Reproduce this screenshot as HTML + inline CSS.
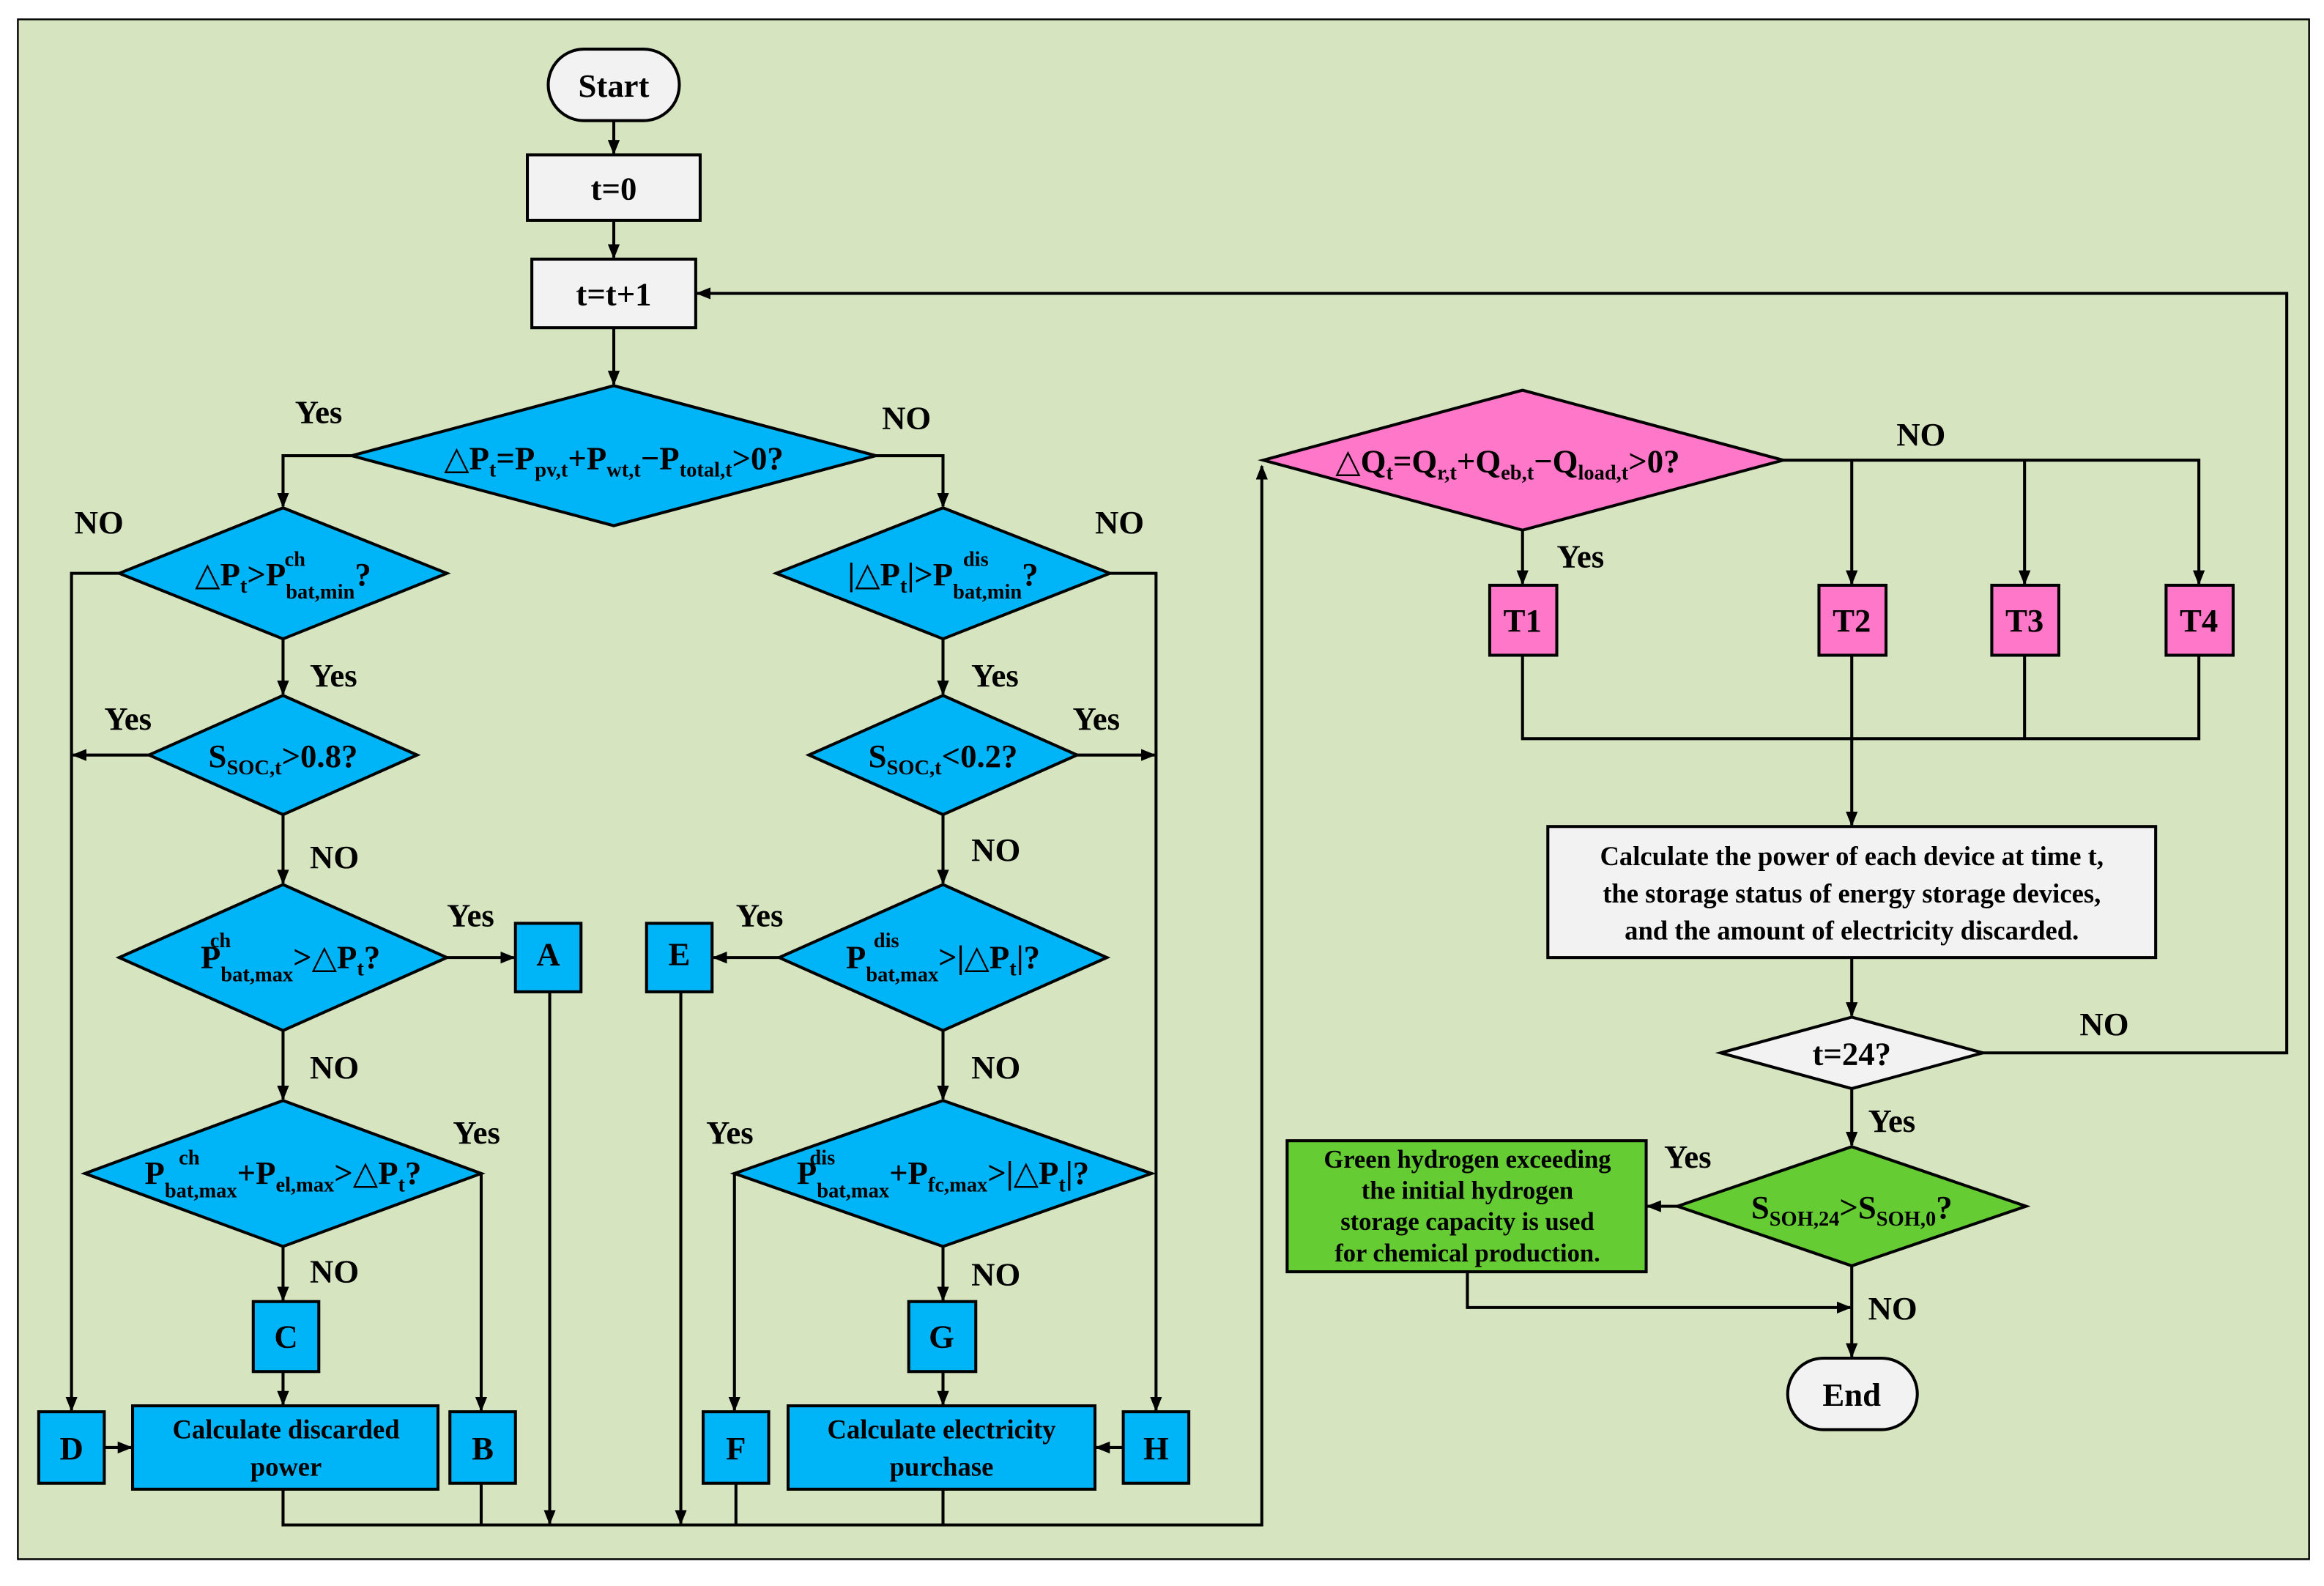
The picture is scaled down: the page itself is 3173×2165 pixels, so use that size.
<!DOCTYPE html>
<html><head><meta charset="utf-8"><style>
html,body{margin:0;padding:0;background:#fff;}
svg{display:block}
text{font-family:"Liberation Serif","Times New Roman","DejaVu Serif",serif;font-weight:bold;fill:#000}
</style></head><body>
<svg width="3173" height="2165" viewBox="0 0 1560 1065" preserveAspectRatio="none" xmlns="http://www.w3.org/2000/svg" font-family="Liberation Serif, DejaVu Serif, serif">
<defs><marker id="a" markerWidth="10" markerHeight="10" refX="9" refY="5" orient="auto" markerUnits="userSpaceOnUse"><path d="M0,1 L10,5 L0,9 Z" fill="#000"/></marker></defs>
<rect x="12" y="13" width="1538" height="1034" fill="#d6e4c0" stroke="#000" stroke-width="1.2"/>
<g stroke="#000" stroke-width="2" fill="none">
<line x1="412" y1="81" x2="412" y2="103" marker-end="url(#a)"/>
<line x1="412" y1="148" x2="412" y2="173" marker-end="url(#a)"/>
<line x1="412" y1="220" x2="412" y2="258" marker-end="url(#a)"/>
<polyline points="236,306 190,306 190,340" marker-end="url(#a)"/>
<polyline points="588,306 633,306 633,340" marker-end="url(#a)"/>
<polyline points="80,385 48,385 48,947" marker-end="url(#a)"/>
<polyline points="745,385 776,385 776,947" marker-end="url(#a)"/>
<line x1="190" y1="429" x2="190" y2="466" marker-end="url(#a)"/>
<line x1="633" y1="429" x2="633" y2="466" marker-end="url(#a)"/>
<line x1="100" y1="507" x2="49" y2="507" marker-end="url(#a)"/>
<line x1="723" y1="507" x2="775" y2="507" marker-end="url(#a)"/>
<line x1="190" y1="547" x2="190" y2="593" marker-end="url(#a)"/>
<line x1="633" y1="547" x2="633" y2="593" marker-end="url(#a)"/>
<line x1="300" y1="643" x2="345" y2="643" marker-end="url(#a)"/>
<line x1="523" y1="643" x2="479" y2="643" marker-end="url(#a)"/>
<line x1="190" y1="692" x2="190" y2="738" marker-end="url(#a)"/>
<line x1="633" y1="692" x2="633" y2="738" marker-end="url(#a)"/>
<polyline points="323,788 323,947" marker-end="url(#a)"/>
<polyline points="493,788 493,947" marker-end="url(#a)"/>
<line x1="190" y1="837" x2="190" y2="873" marker-end="url(#a)"/>
<line x1="633" y1="837" x2="633" y2="873" marker-end="url(#a)"/>
<line x1="190" y1="921" x2="190" y2="943" marker-end="url(#a)"/>
<line x1="633" y1="921" x2="633" y2="943" marker-end="url(#a)"/>
<line x1="70" y1="972" x2="88" y2="972" marker-end="url(#a)"/>
<line x1="754" y1="972" x2="736" y2="972" marker-end="url(#a)"/>
<polyline points="190,1000 190,1024 847,1024 847,313" marker-end="url(#a)"/>
<line x1="323" y1="996" x2="323" y2="1024"/>
<line x1="494" y1="996" x2="494" y2="1024"/>
<line x1="633" y1="1000" x2="633" y2="1024"/>
<line x1="369" y1="666" x2="369" y2="1023" marker-end="url(#a)"/>
<line x1="457" y1="666" x2="457" y2="1023" marker-end="url(#a)"/>
<line x1="1022" y1="356" x2="1022" y2="392" marker-end="url(#a)"/>
<polyline points="1197,309 1476,309 1476,392" marker-end="url(#a)"/>
<line x1="1243" y1="309" x2="1243" y2="392" marker-end="url(#a)"/>
<line x1="1359" y1="309" x2="1359" y2="392" marker-end="url(#a)"/>
<polyline points="1022,440 1022,496 1476,496 1476,440"/>
<line x1="1359" y1="440" x2="1359" y2="496"/>
<line x1="1243" y1="440" x2="1243" y2="554" marker-end="url(#a)"/>
<line x1="1243" y1="643" x2="1243" y2="682" marker-end="url(#a)"/>
<polyline points="1331,707 1535,707 1535,197 468,197" marker-end="url(#a)"/>
<line x1="1243" y1="731" x2="1243" y2="769" marker-end="url(#a)"/>
<line x1="1126" y1="810" x2="1106" y2="810" marker-end="url(#a)"/>
<polyline points="985,854 985,878 1242,878" marker-end="url(#a)"/>
<line x1="1243" y1="850" x2="1243" y2="911" marker-end="url(#a)"/>
</g>
<g stroke="#000" stroke-width="2">
<rect x="368" y="33" width="88" height="48" rx="24" fill="#f2f2f2"/>
<rect x="354" y="104" width="116" height="44" fill="#f2f2f2"/>
<rect x="357" y="174" width="110" height="46" fill="#f2f2f2"/>
<polygon points="236,306 412,259 588,306 412,353" fill="#00b4f8"/>
<polygon points="80,385 190,341 300,385 190,429" fill="#00b4f8"/>
<polygon points="521,385 633,341 745,385 633,429" fill="#00b4f8"/>
<polygon points="100,507 190,467 280,507 190,547" fill="#00b4f8"/>
<polygon points="543,507 633,467 723,507 633,547" fill="#00b4f8"/>
<polygon points="80,643 190,594 300,643 190,692" fill="#00b4f8"/>
<polygon points="523,643 633,594 743,643 633,692" fill="#00b4f8"/>
<polygon points="57,788 190,739 323,788 190,837" fill="#00b4f8"/>
<polygon points="493,788 633,739 773,788 633,837" fill="#00b4f8"/>
<rect x="346" y="620" width="44" height="46" fill="#00b4f8"/>
<rect x="434" y="620" width="44" height="46" fill="#00b4f8"/>
<rect x="170" y="874" width="44" height="47" fill="#00b4f8"/>
<rect x="610" y="874" width="45" height="47" fill="#00b4f8"/>
<rect x="89" y="944" width="205" height="56" fill="#00b4f8"/>
<rect x="529" y="944" width="206" height="56" fill="#00b4f8"/>
<rect x="26" y="948" width="44" height="48" fill="#00b4f8"/>
<rect x="302" y="948" width="44" height="48" fill="#00b4f8"/>
<rect x="472" y="948" width="44" height="48" fill="#00b4f8"/>
<rect x="754" y="948" width="44" height="48" fill="#00b4f8"/>
<polygon points="848,309 1022,262 1197,309 1022,356" fill="#ff77c8"/>
<rect x="1000" y="393" width="45" height="47" fill="#ff77c8"/>
<rect x="1221" y="393" width="45" height="47" fill="#ff77c8"/>
<rect x="1337" y="393" width="45" height="47" fill="#ff77c8"/>
<rect x="1454" y="393" width="45" height="47" fill="#ff77c8"/>
<rect x="1039" y="555" width="408" height="88" fill="#f2f2f2"/>
<polygon points="1155,707 1243,683 1331,707 1243,731" fill="#f2f2f2"/>
<polygon points="1126,810 1243,770 1360,810 1243,850" fill="#66cc33"/>
<rect x="864" y="766" width="241" height="88" fill="#66cc33"/>
<rect x="1200" y="912" width="87" height="48" rx="24" fill="#f2f2f2"/>
</g>
<g font-size="22" text-anchor="middle">
<text x="412" y="65">Start</text>
<text x="412" y="134">t=0</text>
<text x="412" y="205">t=t+1</text>
<text x="368" y="648">A</text>
<text x="456" y="648">E</text>
<text x="192" y="905">C</text>
<text x="632" y="905">G</text>
<text x="48" y="980">D</text>
<text x="324" y="980">B</text>
<text x="494" y="980">F</text>
<text x="776" y="980">H</text>
<text x="1022" y="424">T1</text>
<text x="1243" y="424">T2</text>
<text x="1359" y="424">T3</text>
<text x="1476" y="424">T4</text>
<text x="1243" y="715">t=24?</text>
<text x="1243" y="944">End</text>
</g>
<g font-size="22" text-anchor="middle">
<text x="412" y="315">△P<tspan font-size="14" dy="5">t</tspan><tspan dy="-5">=P</tspan><tspan font-size="14" dy="5">pv,t</tspan><tspan dy="-5">+P</tspan><tspan font-size="14" dy="5">wt,t</tspan><tspan dy="-5">−P</tspan><tspan font-size="14" dy="5">total,t</tspan><tspan dy="-5">&gt;0?</tspan></text>
<text x="190" y="393">△P<tspan font-size="14" dy="5">t</tspan><tspan dy="-5">&gt;P</tspan><tspan font-size="14" dy="9">bat,min</tspan><tspan dy="-9">?</tspan></text>
<text x="198" y="380" font-size="14">ch</text>
<text x="633" y="393">|△P<tspan font-size="14" dy="5">t</tspan><tspan dy="-5">|&gt;P</tspan><tspan font-size="14" dy="9">bat,min</tspan><tspan dy="-9">?</tspan></text>
<text x="655" y="380" font-size="14">dis</text>
<text x="190" y="515">S<tspan font-size="14" dy="5">SOC,t</tspan><tspan dy="-5">&gt;0.8?</tspan></text>
<text x="633" y="515">S<tspan font-size="14" dy="5">SOC,t</tspan><tspan dy="-5">&lt;0.2?</tspan></text>
<text x="195" y="650">P<tspan font-size="14" dy="9">bat,max</tspan><tspan dy="-9">&gt;△P</tspan><tspan font-size="14" dy="5">t</tspan><tspan dy="-5">?</tspan></text>
<text x="148" y="636" font-size="14">ch</text>
<text x="633" y="650">P<tspan font-size="14" dy="9">bat,max</tspan><tspan dy="-9">&gt;|△P</tspan><tspan font-size="14" dy="5">t</tspan><tspan dy="-5">|?</tspan></text>
<text x="595" y="636" font-size="14">dis</text>
<text x="190" y="795">P<tspan font-size="14" dy="9">bat,max</tspan><tspan dy="-9">+P</tspan><tspan font-size="14" dy="5">el,max</tspan><tspan dy="-5">&gt;△P</tspan><tspan font-size="14" dy="5">t</tspan><tspan dy="-5">?</tspan></text>
<text x="127" y="782" font-size="14">ch</text>
<text x="633" y="795">P<tspan font-size="14" dy="9">bat,max</tspan><tspan dy="-9">+P</tspan><tspan font-size="14" dy="5">fc,max</tspan><tspan dy="-5">&gt;|△P</tspan><tspan font-size="14" dy="5">t</tspan><tspan dy="-5">|?</tspan></text>
<text x="552" y="782" font-size="14">dis</text>
<text x="1012" y="317">△Q<tspan font-size="14" dy="5">t</tspan><tspan dy="-5">=Q</tspan><tspan font-size="14" dy="5">r,t</tspan><tspan dy="-5">+Q</tspan><tspan font-size="14" dy="5">eb,t</tspan><tspan dy="-5">−Q</tspan><tspan font-size="14" dy="5">load,t</tspan><tspan dy="-5">&gt;0?</tspan></text>
<text x="1243" y="818">S<tspan font-size="14" dy="5">SOH,24</tspan><tspan dy="-5">&gt;S</tspan><tspan font-size="14" dy="5">SOH,0</tspan><tspan dy="-5">?</tspan></text>
</g>
<g font-size="18" text-anchor="middle">
<text x="192" y="966">Calculate discarded</text>
<text x="192" y="991">power</text>
<text x="632" y="966">Calculate electricity</text>
<text x="632" y="991">purchase</text>
<text x="1243" y="581">Calculate the power of each device at time t,</text>
<text x="1243" y="606">the storage status of energy storage devices,</text>
<text x="1243" y="631">and the amount of electricity discarded.</text>
<text x="985" y="784" font-size="17">Green hydrogen exceeding</text>
<text x="985" y="805" font-size="17">the initial hydrogen</text>
<text x="985" y="826" font-size="17">storage capacity is used</text>
<text x="985" y="847" font-size="17">for chemical production.</text>
</g>
<g font-size="22">
<text x="198" y="284">Yes</text>
<text x="592" y="288">NO</text>
<text x="50" y="358">NO</text>
<text x="735" y="358">NO</text>
<text x="208" y="461">Yes</text>
<text x="652" y="461">Yes</text>
<text x="70" y="490">Yes</text>
<text x="720" y="490">Yes</text>
<text x="208" y="583">NO</text>
<text x="652" y="578">NO</text>
<text x="300" y="622">Yes</text>
<text x="494" y="622">Yes</text>
<text x="208" y="724">NO</text>
<text x="652" y="724">NO</text>
<text x="304" y="768">Yes</text>
<text x="474" y="768">Yes</text>
<text x="208" y="861">NO</text>
<text x="652" y="863">NO</text>
<text x="1273" y="299">NO</text>
<text x="1045" y="381">Yes</text>
<text x="1396" y="695">NO</text>
<text x="1254" y="760">Yes</text>
<text x="1117" y="784">Yes</text>
<text x="1254" y="886">NO</text>
</g>
</svg>
</body></html>
